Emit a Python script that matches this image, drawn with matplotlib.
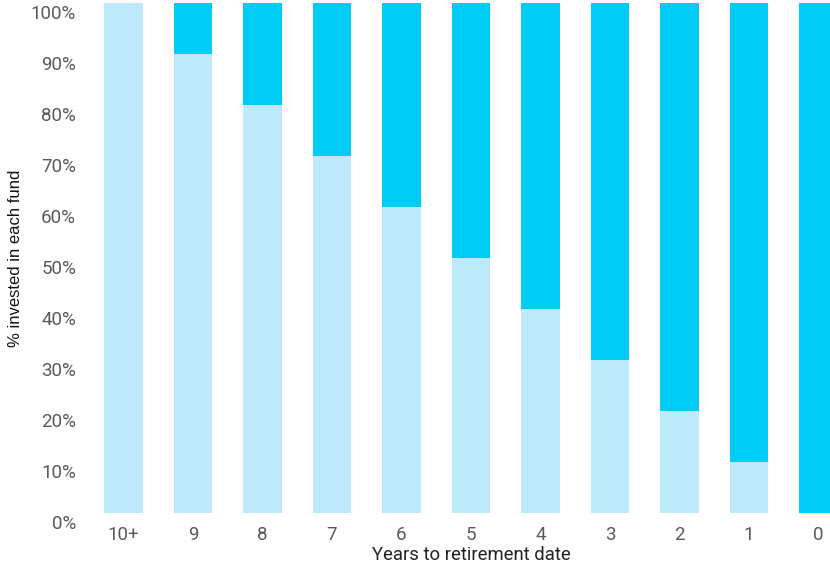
import matplotlib
matplotlib.use('Agg')
import matplotlib.pyplot as plt
import matplotlib.transforms as mtransforms
import numpy as np

plt.rcParams['font.family'] = ['Roboto', 'DejaVu Sans']

# 数据
years = ['10+', '9', '8', '7', '6', '5', '4', '3', '2', '1', '0']
fund_a = [100, 90, 80, 70, 60, 50, 40, 30, 20, 10, 0]
fund_b = [0, 10, 20, 30, 40, 50, 60, 70, 80, 90, 100]
yticks = [0, 10, 20, 30, 40, 50, 60, 70, 80, 90, 100]

light = '#BDE9FA'
cyan = '#00CCF5'

fig = plt.figure(figsize=(8.3, 5.66), dpi=100)
ax = fig.add_axes([0.1069, 0.0936, 0.9211, 0.9011])

x = np.arange(len(years))
ax.bar(x, fund_a, width=0.56, color=light)
ax.bar(x, fund_b, width=0.56, bottom=fund_a, color=cyan)

ax.set_xlim(-0.5, 10.5)
ax.set_ylim(0, 100)
ax.set_xticks(x)
ax.set_xticklabels(years)
ax.set_yticks(yticks)
ax.set_yticklabels(['%d%%' % v for v in yticks])

for s in ax.spines.values():
    s.set_visible(False)
ax.tick_params(axis='both', length=0, labelsize=13.5, colors='#5a5a5a')
ax.tick_params(axis='x', pad=9)
ax.tick_params(axis='y', pad=9)

# y轴标签略微下移
off = mtransforms.ScaledTranslation(0, -9 / 100, fig.dpi_scale_trans)
for lab in ax.get_yticklabels():
    lab.set_transform(lab.get_transform() + off)

ax.set_xlabel('Years to retirement date', fontsize=13.3, color='#222222', labelpad=2)
ax.set_ylabel('% invested in each fund', fontsize=12, color='#111111', labelpad=6,
              family=['Liberation Sans', 'DejaVu Sans'])

fig.savefig('out.png', dpi=100)
